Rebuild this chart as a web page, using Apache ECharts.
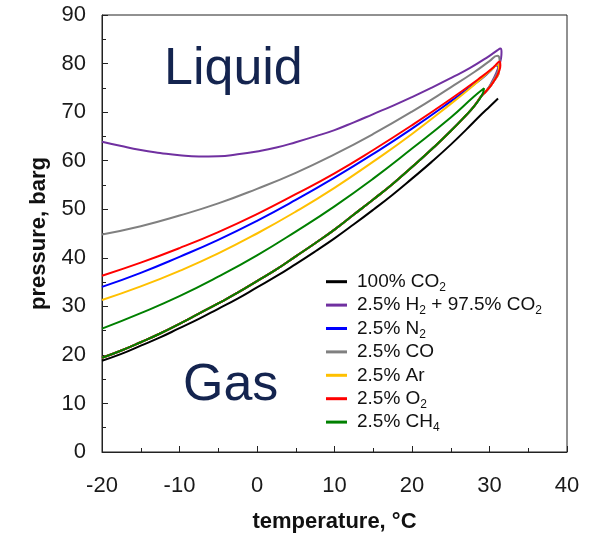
<!DOCTYPE html>
<html>
<head>
<meta charset="utf-8">
<script src="https://cdn.jsdelivr.net/npm/echarts@6/dist/echarts.min.js"></script>
<style>html,body{margin:0;padding:0;background:#fff;}#c{width:606px;height:534px;}</style>
</head>
<body>
<div id="c"></div>
<script>
// ---- data (temperature °C, pressure barg) ----
const seriesNames = ['100% CO2', '2.5% H2 + 97.5% CO2', '2.5% N2', '2.5% CO', '2.5% Ar', '2.5% O2', '2.5% CH4'];
const seriesColors = ['#000000', '#7030a0', '#0000ff', '#808080', '#ffc000', '#ff0000', '#008000'];

const co2T = [-20, -17.5, -15, -12.5, -10, -7.5, -5, -2.5, 0, 2.5, 5, 7.5, 10, 12.5, 15, 17.5, 20, 22.5, 25, 27, 29, 30, 31.1];
const co2P = [18.8, 20.2, 21.9, 23.6, 25.5, 27.4, 29.5, 31.6, 33.9, 36.2, 38.7, 41.3, 44.0, 46.9, 49.9, 53.0, 56.3, 59.7, 63.3, 66.4, 69.6, 71.1, 72.8];

// common dew (lower) branch of the 2.5% mixtures, from the critical region back down to -20 °C
const dewT = [29, 28, 27, 25, 22.5, 20, 17.5, 15, 12.5, 10, 7.5, 5, 2.5, 0, -2.5, -5, -7.5, -10, -12.5, -15, -17.5, -20];
const dewP = [73.4, 71.2, 69.4, 66.1, 62.3, 58.7, 55.2, 52.0, 48.9, 45.8, 43.0, 40.3, 37.6, 35.2, 32.8, 30.6, 28.5, 26.4, 24.4, 22.6, 20.9, 19.4];

// H2 mixture
const h2UpT = [-20, -17.5, -15, -12.5, -10, -7.5, -5, -2.5, 0, 2.5, 5, 7.5, 10, 12.5, 15, 17.5, 20, 22.5, 25, 27.5, 30, 31, 31.4];
const h2UpP = [63.9, 63.0, 62.2, 61.6, 61.1, 60.85, 60.9, 61.3, 61.9, 62.7, 63.8, 65.0, 66.3, 67.9, 69.6, 71.3, 73.1, 75.0, 77.0, 79.1, 81.6, 82.7, 83.1];
const h2TipT = [31.55, 31.5, 31.3, 30.9, 30.3, 29.7];
const h2TipP = [82.4, 81.2, 79.9, 78.2, 76.2, 74.6];

// N2 mixture
const n2UpT = [-20, -15, -10, -5, 0, 5, 10, 15, 20, 25, 28.9, 30.0, 30.9];
const n2UpP = [34.0, 36.9, 40.2, 43.7, 47.6, 51.9, 56.5, 61.4, 66.6, 72.2, 76.8, 78.3, 79.6];
const n2TipT = [31.2, 30.7, 30.1, 29.5];
const n2TipP = [78.3, 76.7, 75.3, 74.2];

// CO mixture
const coUpT = [-20, -15, -10, -5, 0, 5, 10, 15, 20, 25, 28, 30, 31];
const coUpP = [44.8, 46.5, 48.7, 51.2, 54.2, 57.5, 61.3, 65.5, 70.1, 75.1, 78.2, 80.5, 81.6];
const coTipT = [31.3, 31.3, 30.9, 30.3, 29.6];
const coTipP = [80.8, 79.5, 77.8, 76.0, 74.4];

// Ar mixture
const arUpT = [-20, -15, -10, -5, 0, 5, 10, 15, 20, 25, 28, 29.8, 30.5, 31.0];
const arUpP = [31.3, 34.1, 37.3, 40.9, 45.0, 49.5, 54.4, 59.8, 65.5, 71.7, 75.6, 78.1, 79.1, 79.8];
const arTipT = [31.2, 30.7, 30.1, 29.5];
const arTipP = [78.3, 76.7, 75.3, 74.2];

// O2 mixture
const o2UpT = [-20, -15, -10, -5, 0, 5, 10, 15, 20, 25, 29, 30.5, 31.3];
const o2UpP = [36.3, 39.0, 42.0, 45.3, 49.0, 53.1, 57.4, 62.2, 67.3, 72.7, 77.3, 79.2, 80.4];
const o2TipT = [31.4, 31.2, 30.7, 30.1, 29.5];
const o2TipP = [79.6, 78.3, 76.7, 75.3, 74.2];

// CH4 mixture
const ch4UpT = [-20, -15, -10, -5, 0, 5, 10, 15, 20, 25, 28, 29.3];
const ch4UpP = [25.4, 28.6, 32.1, 36.1, 40.5, 45.4, 50.6, 56.3, 62.5, 68.9, 73.2, 74.9];
const ch4TipT = [];
const ch4TipP = [];

const xTicks = { min: -20, max: 40, interval: 10 };
const yTicks = { min: 0, max: 90, interval: 10 };

// ---- build ----
function pairs(T, P) { return T.map((t, i) => [t, P[i]]); }
function envelope(upT, upP, tipT, tipP) {
  return pairs(upT, upP).concat(pairs(tipT, tipP), pairs(dewT, dewP));
}
const seriesData = [
  pairs(co2T, co2P),
  envelope(h2UpT, h2UpP, h2TipT, h2TipP),
  envelope(n2UpT, n2UpP, n2TipT, n2TipP),
  envelope(coUpT, coUpP, coTipT, coTipP),
  envelope(arUpT, arUpP, arTipT, arTipP),
  envelope(o2UpT, o2UpP, o2TipT, o2TipP),
  envelope(ch4UpT, ch4UpP, ch4TipT, ch4TipP)
];

const FONT = '"Liberation Sans", Arial, sans-serif';
const chart = echarts.init(document.getElementById('c'), null, { renderer: 'canvas' });
chart.setOption({
  animation: false,
  backgroundColor: '#ffffff',
  grid: { left: 102, right: 39, top: 15, bottom: 82, outerBoundsMode: 'none', containLabel: false, show: true, borderColor: '#222', borderWidth: 1, backgroundColor: 'transparent' },
  xAxis: {
    type: 'value', min: xTicks.min, max: xTicks.max, interval: xTicks.interval,
    name: 'temperature, °C', nameLocation: 'middle', nameGap: 59,
    nameTextStyle: { fontFamily: FONT, fontSize: 22, fontWeight: 'bold', color: '#111' },
    axisLine: { show: true, onZero: false, lineStyle: { color: '#222', width: 1 } },
    axisTick: { show: true, inside: true, length: 6, lineStyle: { color: '#222' } },
    minorTick: { show: true, splitNumber: 2, length: 4, lineStyle: { color: '#222' } },
    splitLine: { show: false },
    axisLabel: { fontFamily: FONT, fontSize: 22, color: '#1a1a1a', margin: 23 }
  },
  yAxis: {
    type: 'value', min: yTicks.min, max: yTicks.max, interval: yTicks.interval,
    name: 'pressure, barg', nameLocation: 'middle', nameGap: 52, nameRotate: 90,
    nameTextStyle: { fontFamily: FONT, fontSize: 22, fontWeight: 'bold', color: '#111' },
    axisLine: { show: true, onZero: false, lineStyle: { color: '#222', width: 1 } },
    axisTick: { show: true, inside: true, length: 6, lineStyle: { color: '#222' } },
    minorTick: { show: true, splitNumber: 2, length: 4, lineStyle: { color: '#222' } },
    splitLine: { show: false },
    axisLabel: { fontFamily: FONT, fontSize: 22, color: '#1a1a1a', margin: 16 }
  },
  legend: {
    orient: 'vertical', left: 321, top: 265, itemWidth: 21, itemHeight: 3, itemGap: 0,
    icon: 'rect',
    data: seriesNames,
    formatter: n => n.replace(/([A-Z])(\d)/g, '$1{s|$2}'),
    textStyle: {
      fontFamily: FONT, fontSize: 19, color: '#111', lineHeight: 23.4, padding: [0, 0, 0, 5],
      rich: { s: { fontFamily: FONT, fontSize: 12, lineHeight: 16, verticalAlign: 'bottom', color: '#111' } }
    }
  },
  graphic: [
    { type: 'text', style: { text: 'Liquid', x: 164, y: 70, font: '52px "Liberation Sans", Arial, sans-serif', fill: '#14244f', textAlign: 'left', textVerticalAlign: 'middle' } },
    { type: 'text', style: { text: 'Gas', x: 183, y: 386, font: '52px "Liberation Sans", Arial, sans-serif', fill: '#14244f', textAlign: 'left', textVerticalAlign: 'middle' } }
  ],
  series: seriesNames.map((n, i) => ({
    name: n, type: 'line', data: seriesData[i], color: seriesColors[i],
    showSymbol: false, symbol: 'none', smooth: 0.5,
    lineStyle: { width: 2, color: seriesColors[i] },
    itemStyle: { color: seriesColors[i] },
    z: 2 + i
  }))
});
</script>
</body>
</html>
